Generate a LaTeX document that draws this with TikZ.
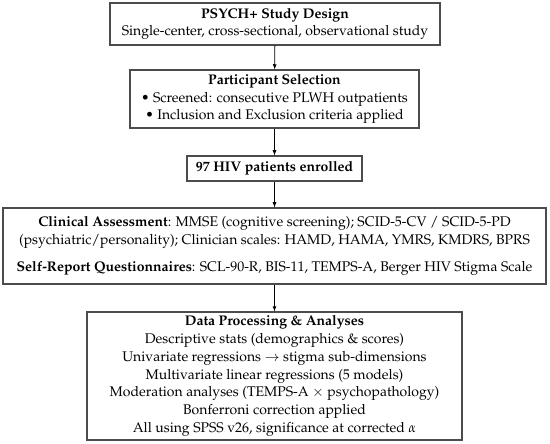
\documentclass[tikz,border=0pt]{standalone}
\usepackage[T1]{fontenc}
\usepackage{mathpazo}
\usepackage{tikz}

\begin{document}
\begin{tikzpicture}[x=1pt,y=-1pt,
        box/.style={draw=black!70,line width=1.1pt,align=center,inner sep=0pt,
                    font=\fontsize{14}{17.8}\selectfont},
        arr/.style={->,>=latex,line width=0.8pt}]
                \useasboundingbox (0,0) rectangle (550,444);

                \node[box,minimum width=330,minimum height=42] (design) at (275,24)
                    {\textbf{PSYCH+ Study Design}\\Single-center, cross-sectional, observational study};
                \node[box,minimum width=289,minimum height=58] (select) at (274.5,99)
                    {\textbf{Participant Selection}\\\textbullet{} Screened: consecutive PLWH outpatients\\\textbullet{} Inclusion and Exclusion criteria applied};
                \node[box,minimum width=175,minimum height=25] (enrol) at (274.5,168.5)
                    {\textbf{97 HIV patients enrolled}};
                \node[box,minimum width=543,minimum height=76] (assess) at (274.5,246)
                    {\textbf{Clinical Assessment}: MMSE (cognitive screening); SCID-5-CV / SCID-5-PD\\(psychiatric/personality); Clinician scales: HAMD, HAMA, YMRS, KMDRS, BPRS\\[10pt]\textbf{Self-Report Questionnaires}: SCL-90-R, BIS-11, TEMPS-A, Berger HIV Stigma Scale};
                \node[box,minimum width=375,minimum height=128] (analyse) at (274.5,376)
                    {\textbf{Data Processing \& Analyses}\\Descriptive stats (demographics \& scores)\\Univariate regressions $\rightarrow$ stigma sub-dimensions\\Multivariate linear regressions (5 models)\\Moderation analyses (TEMPS-A $\times$ psychopathology)\\Bonferroni correction applied\\All using SPSS v26, significance at corrected $\alpha$};

                \draw[arr] (design) -- (select);
                \draw[arr] (select) -- (enrol);
                \draw[arr] (enrol) -- (assess);
                \draw[arr] (assess) -- (analyse);
            \end{tikzpicture}
\end{document}
